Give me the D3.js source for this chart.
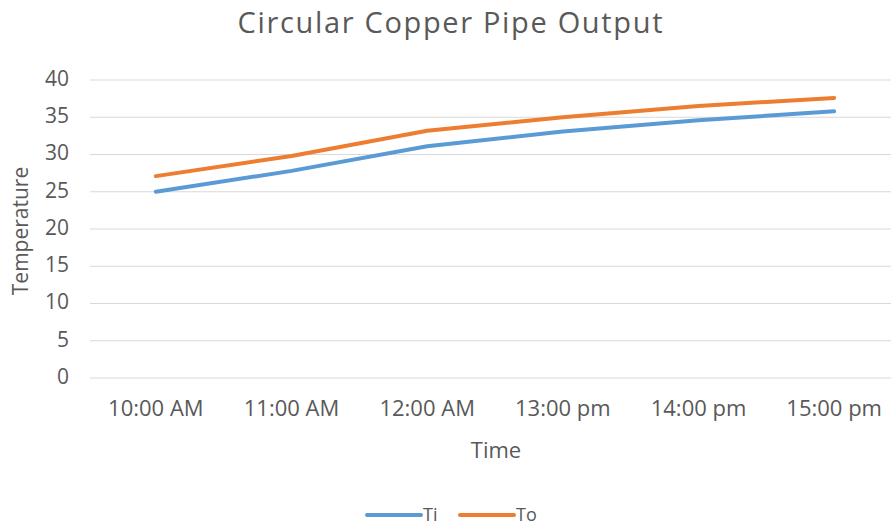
<!DOCTYPE html>
<html><head><meta charset="utf-8">
<script src="https://cdn.jsdelivr.net/npm/d3@7"></script>
<style>body{margin:0;background:#fff}svg{display:block}text{font-family:"Open Sans",sans-serif;fill:#595959}</style>
</head><body><svg id="c" width="891" height="529"></svg>
<script>
const categories = ["10:00 AM","11:00 AM","12:00 AM","13:00 pm","14:00 pm","15:00 pm"];
const tiValues = [25.0, 27.8, 31.1, 33.1, 34.6, 35.8];
const toValues = [27.1, 29.8, 33.2, 35.0, 36.5, 37.6];
const yTicks = [0,5,10,15,20,25,30,35,40];
const seriesNames = ["Ti","To"];
const colors = ["#5B9BD5","#ED7D31"];

const svg = d3.select("#c");
const x = d3.scaleBand().domain(categories).range([88, 902]);
const y = d3.scaleLinear().domain([0,40]).range([378, 80]);

// gridlines
svg.append("g").selectAll("line").data(yTicks).join("line")
  .attr("x1", 90).attr("x2", 891)
  .attr("y1", d=>y(d)).attr("y2", d=>y(d))
  .attr("stroke", "#D9D9D9").attr("stroke-width", 1);

// y axis labels
const yAxis = d3.axisLeft(y).tickValues(yTicks).tickSize(0).tickPadding(0);
const gy = svg.append("g").attr("transform","translate(69,0)").call(yAxis);
gy.select(".domain").remove();
gy.selectAll("text").style("font-size","21px").attr("fill","#595959").attr("dy","0.26em");

// x axis labels
const xAxis = d3.axisBottom(x).tickSize(0).tickPadding(0);
const gx = svg.append("g").attr("transform","translate(0,416)").call(xAxis);
gx.select(".domain").remove();
gx.selectAll("text").style("font-size","22px").attr("fill","#595959").attr("y",0).attr("dy","0");

// titles
svg.append("text").attr("x", 450).attr("y", 33).attr("text-anchor","middle")
  .style("font-size","29px").attr("textLength", 425).attr("lengthAdjust","spacing")
  .text("Circular Copper Pipe Output");
svg.append("text").attr("x", 496).attr("y", 458).attr("text-anchor","middle")
  .style("font-size","22px").text("Time");
svg.append("text").attr("transform","translate(28,231) rotate(-90)").attr("text-anchor","middle")
  .style("font-size","21px").text("Temperature");

// lines
const line = d3.line().x((d,i)=>x(categories[i]) + x.bandwidth()/2).y(d=>y(d));
[tiValues, toValues].forEach((vals, k) => {
  svg.append("path").datum(vals).attr("d", line)
    .attr("fill","none").attr("stroke", colors[k]).attr("stroke-width", 4)
    .attr("stroke-linecap","round").attr("stroke-linejoin","round");
});

// legend
const legendX = [365, 458];
seriesNames.forEach((n,k)=>{
  const g = svg.append("g").attr("transform",`translate(${legendX[k]},515)`);
  g.append("line").attr("x1",2).attr("x2",56).attr("y1",0).attr("y2",0)
    .attr("stroke",colors[k]).attr("stroke-width",4).attr("stroke-linecap","round");
  g.append("text").attr("x",58).attr("y",0).attr("dy","0.36em").style("font-size","18px").text(n);
});
</script></body></html>
